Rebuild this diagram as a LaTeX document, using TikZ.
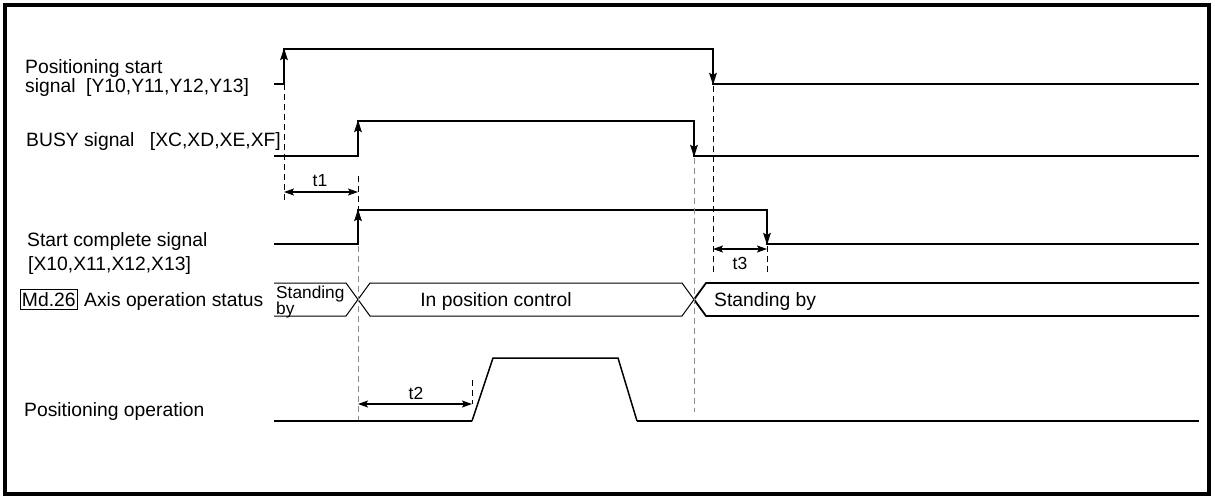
\documentclass[tikz,border=0pt]{standalone}
\usepackage{fontspec}
\setmainfont{Liberation Sans}
\usetikzlibrary{arrows.meta}
\begin{document}
\begin{tikzpicture}[x=1pt,y=-1pt,
  sig/.style={line width=2.3pt, line join=miter},
  slim/.style={line width=1pt},
  ramp/.style={line width=1.5pt, line join=miter},
  edgearrow/.style={line width=2.3pt, -{Stealth[length=12pt,width=7.5pt,inset=2pt]}},
  guide/.style={line width=1pt, dash pattern=on 6pt off 4pt},
  grayguide/.style={guide, draw=black!45},
  dim/.style={line width=1.3pt, {Stealth[length=10pt,width=7pt,inset=2pt]}-{Stealth[length=10pt,width=7pt,inset=2pt]}},
  lbl/.style={anchor=base west, inner sep=0pt, font=\fontsize{19.3}{22}\selectfont},
  tlbl/.style={anchor=base, inner sep=0pt, font=\fontsize{17.5}{20}\selectfont},
  smalllbl/.style={anchor=base west, inner sep=0pt, font=\fontsize{17.3}{20}\selectfont},
  mdbox/.style={draw, line width=0.9pt, inner xsep=1.5pt, inner ysep=3pt, anchor=base west, font=\fontsize{19.3}{22}\selectfont}
]
\useasboundingbox (0,0) rectangle (1215,498);
\draw[line width=3.2pt] (5,5) rectangle (1209,494);

% labels
\node[lbl] (psA) at (25,73.5) {Positioning start};
\node[lbl] (psB) at (25,92) {signal\hspace{0.55em}[Y10,Y11,Y12,Y13]};
\node[lbl] (busy) at (26,146.5) {BUSY signal\hspace{0.8em}[XC,XD,XE,XF]};
\node[lbl] (scA) at (27,246) {Start complete signal};
\node[lbl] (scB) at (28,270) {[X10,X11,X12,X13]};
\node[mdbox] (md) at (20,306) {Md.26};
\node[lbl] (axis) at (84,306) {Axis operation status};
\node[lbl] (pop) at (24,416) {Positioning operation};

% Positioning start signal
\draw[sig] (274,84) -- (284,84) -- (284,49) -- (713,49) -- (713,84) -- (1199,84);
\draw[edgearrow] (284,84) -- (284,48);
\draw[edgearrow] (713,49) -- (713,85);

% BUSY signal
\draw[sig] (274,156) -- (358,156) -- (358,121) -- (694,121) -- (694,156) -- (1199,156);
\draw[edgearrow] (358,156) -- (358,120);
\draw[edgearrow] (694,121) -- (694,157);

% Start complete signal
\draw[sig] (274,244) -- (358,244) -- (358,210) -- (767,210) -- (767,244) -- (1199,244);
\draw[edgearrow] (358,244) -- (358,209);
\draw[edgearrow] (767,210) -- (767,245);

% Axis operation status band
\draw[slim] (274,283) -- (346,283) -- (370,316) -- (682,316) -- (694,299.5);
\draw[slim] (274,316) -- (346,316) -- (370,283) -- (682,283) -- (694,299.5);
\draw[line width=1.8pt, line join=miter] (694,299.5) -- (706,283) -- (1199,283);
\draw[line width=1.8pt, line join=miter] (694,299.5) -- (706,316) -- (1199,316);
\node[smalllbl] (sb1) at (276,298) {Standing};
\node[smalllbl] (sb2) at (276,314) {by};
\node[lbl, anchor=base] (ipc) at (496,306) {In position control};
\node[lbl] (sb3) at (714,306) {Standing by};

% Positioning operation
\draw[sig] (274,421) -- (472,421);
\draw[ramp] (472,421) -- (493,358) -- (618,358) -- (637,421);
\draw[sig] (637,421) -- (1199,421);

% guide lines
\draw[guide] (284,84) -- (284,200);
\draw[guide] (358,176) -- (358,210);
\draw[grayguide] (358,246) -- (358,420);
\draw[grayguide] (694,158) -- (694,412);
\draw[guide] (713,86) -- (713,273);
\draw[guide] (767,246) -- (767,273);
\draw[guide] (472,380) -- (472,404);

% time spans
\coordinate (t1a) at (284,192);
\coordinate (t1b) at (358,192);
\draw[dim] (t1a) -- (t1b);
\node[tlbl] (t1) at (320,186) {t1};
\coordinate (t2a) at (358,404);
\coordinate (t2b) at (472,404);
\draw[dim] (t2a) -- (t2b);
\node[tlbl] (t2) at (416,399) {t2};
\coordinate (t3a) at (713,249);
\coordinate (t3b) at (767,249);
\draw[dim] (t3a) -- (t3b);
\node[tlbl] (t3) at (740,269) {t3};
\end{tikzpicture}
\end{document}
